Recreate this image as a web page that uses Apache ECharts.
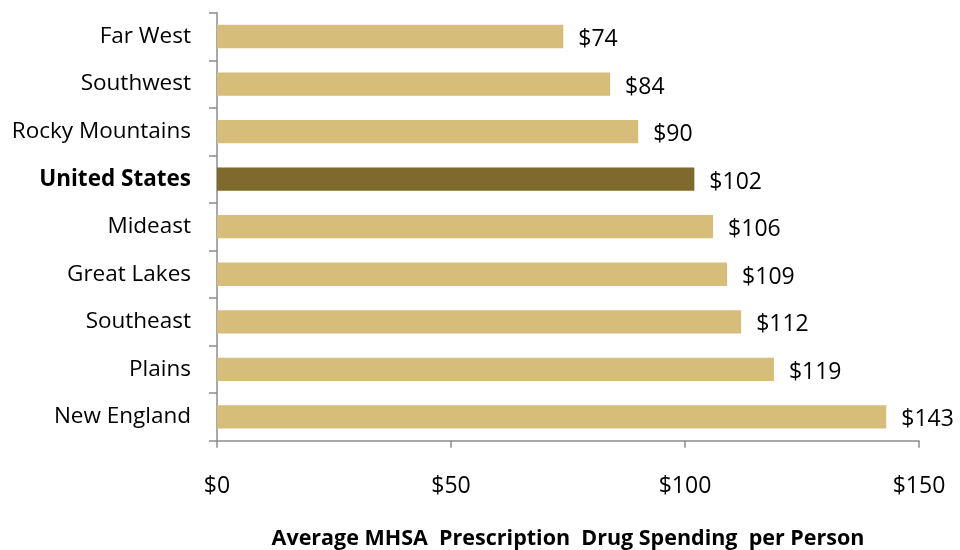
<!DOCTYPE html>
<html>
<head>
<meta charset="utf-8">
<script src="https://cdn.jsdelivr.net/npm/echarts@6/dist/echarts.min.js"></script>
<style>html,body{margin:0;padding:0;background:#fff}#c{width:960px;height:550px}</style>
</head>
<body>
<div id="c"></div>
<script>
const categories = ['Far West','Southwest','Rocky Mountains','United States','Mideast','Great Lakes','Southeast','Plains','New England'];
const values = [74, 84, 90, 102, 106, 109, 112, 119, 143];
const highlight = 'United States';
const xTicks = [0, 50, 100, 150];
const xTitle = 'Average MHSA  Prescription  Drug Spending  per Person';

const FONT = 'Open Sans';
const chart = echarts.init(document.getElementById('c'));
chart.setOption({
  animation: false,
  grid: {left: 217, right: 41, top: 12.7, bottom: 109.3, containLabel: false, outerBoundsMode: 'none'},
  xAxis: {
    type: 'value', min: xTicks[0], max: xTicks[xTicks.length-1], interval: 50,
    splitLine: {show: false},
    axisLine: {show: true, lineStyle: {color: '#8c8c8c', width: 1.5}},
    axisTick: {show: true, length: 7, lineStyle: {color: '#8c8c8c', width: 1.5}},
    axisLabel: {formatter: v => '$' + v, color: '#000', fontFamily: FONT, fontSize: 23, margin: 34},
    name: xTitle, nameLocation: 'middle', nameGap: 87,
    nameTextStyle: {color: '#000', fontFamily: FONT, fontSize: 21.5, fontWeight: 'bold'}
  },
  yAxis: {
    type: 'category', inverse: true,
    data: categories.map(c => c === highlight ? {value: c, textStyle: {fontWeight: 'bold'}} : c),
    axisLine: {show: true, lineStyle: {color: '#8c8c8c', width: 1.5}},
    axisTick: {show: true, length: 8, lineStyle: {color: '#8c8c8c', width: 1.5}},
    axisLabel: {color: '#000', fontFamily: FONT, fontSize: 22.5, margin: 26}
  },
  series: [{
    type: 'bar', barWidth: '49%',
    data: values.map((v, i) => ({value: v, itemStyle: {color: categories[i] === highlight ? '#7F692C' : '#D6BD7A'}})),
    label: {show: true, position: 'right', distance: 15, formatter: p => '$' + p.value,
      color: '#000', fontFamily: FONT, fontSize: 23, offset: [0, 3]}
  }]
});
</script>
</body>
</html>
